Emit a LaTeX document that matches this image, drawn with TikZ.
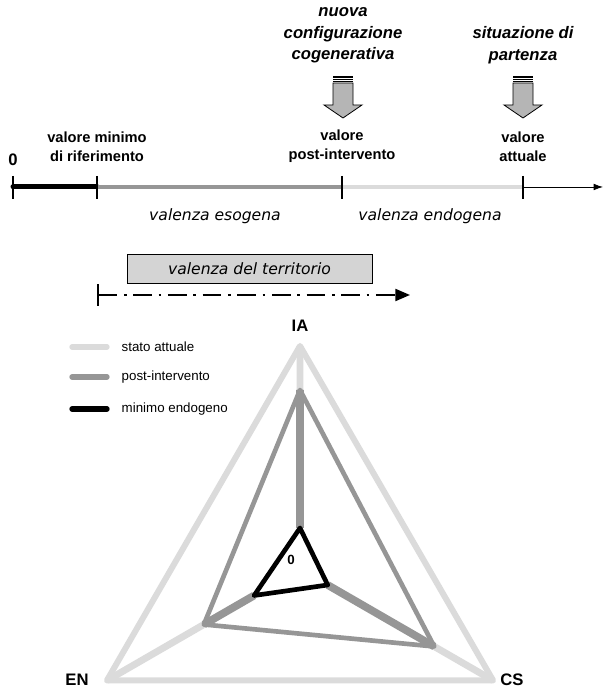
\documentclass[tikz,border=0pt]{standalone}
\usepackage{fontspec}
\setmainfont{Liberation Sans}
\newfontfamily\verd{DejaVu Sans}
\usepackage{xcolor}
\usepackage{tikz}
\usetikzlibrary{positioning,arrows.meta,calc}

\definecolor{lightgr}{gray}{0.86}
\definecolor{midgr}{gray}{0.59}
\definecolor{boxgr}{gray}{0.83}
\definecolor{arrowgr}{gray}{0.71}

\tikzset{
  lbl/.style={font=\bfseries\fontsize{11}{14.25}\selectfont, align=center},
  ttl/.style={font=\bfseries\itshape\fontsize{12.5}{16.2}\selectfont, align=center},
  val/.style={font=\verd\itshape\fontsize{11.7}{14}\selectfont},
  leg/.style={font=\fontsize{10}{12}\selectfont, anchor=west},
  axl/.style={font=\bfseries\fontsize{12.5}{14}\selectfont},
  blockarrow/.style={fill=arrowgr, draw=black, line width=0.6pt, line join=miter},
}

\begin{document}
\begin{tikzpicture}[x=0.75pt,y=0.75pt]
\useasboundingbox (0,0) rectangle (603,691);

% asse dei valori
\coordinate (z0) at (13,504);
\coordinate (zmin) at (97,504);
\coordinate (zpost) at (342,504);
\coordinate (zatt) at (523,504);
\coordinate (zend) at (603,504);
\draw[line width=3.75pt, line cap=round] (z0)--(zmin); % tratto nero
\draw[midgr, line width=3pt] (zmin)--(zpost); % valenza esogena
\draw[lightgr, line width=3pt] (zpost)--(zatt); % valenza endogena
\draw[-{Latex[length=7pt,width=5pt]}, line width=0.6pt] (zatt)--(zend);
\foreach \t in {z0,zmin,zpost,zatt}
  \draw[line width=0.8pt] ($(\t)+(0,11)$)--($(\t)+(0,-12)$); % tacche

\node[axl] (zero) at (13,531) {0};
\node[lbl] (lmin) at (97,544.5) {valore minimo\\di riferimento};
\node[lbl] (lpost) at (342,544.5) {valore\\post-intervento};
\node[lbl] (latt) at (523,544.5) {valore\\attuale};

% frecce grosse
\draw[blockarrow] (333,608)--(353,608)--(353,586)--(362,586)--(343,573)--(324,586)--(333,586)--cycle;
\draw[line width=1.2pt] (333,614)--(353,614);
\draw[line width=0.6pt] (333,611.5)--(353,611.5);
\draw[line width=0.6pt] (333,609.6)--(353,609.6);
\draw[blockarrow] (513,608)--(533,608)--(533,586)--(542,586)--(523,573)--(504,586)--(513,586)--cycle;
\draw[line width=1.2pt] (513,614)--(533,614);
\draw[line width=0.6pt] (513,611.5)--(533,611.5);
\draw[line width=0.6pt] (513,609.6)--(533,609.6);

\node[ttl] (nuova) at (343,655.5) {nuova\\configurazione\\cogenerativa};
\node[ttl] (sit) at (523,645.5) {situazione di\\partenza};

\node[val] (eso) at (215,475) {valenza esogena};
\node[val] (endo) at (430,475) {valenza endogena};

% valenza del territorio
\node[val, draw, line width=0.6pt, fill=boxgr, minimum width=183.75pt, minimum height=21.75pt] (terr) at (249.5,422.5) {valenza del territorio};
\coordinate (da) at (97,396);
\coordinate (db) at (410,396);
\draw[{Bar[width=16.5pt]}-{Triangle[length=11pt,width=9pt]}, line width=1.6pt, dash pattern=on 14pt off 5pt on 2pt off 5pt] (da)--(db);

% legenda
\coordinate (l1a) at (72,344); \coordinate (l1b) at (107,344);
\coordinate (l2a) at (72,314); \coordinate (l2b) at (107,314);
\coordinate (l3a) at (72,282); \coordinate (l3b) at (107,282);
\draw[lightgr, line width=4pt, line cap=round] (l1a)--(l1b);
\draw[midgr, line width=4pt, line cap=round] (l2a)--(l2b);
\draw[line width=4pt, line cap=round] (l3a)--(l3b);
\node[leg] (leg1) at (117,344) {stato attuale};
\node[leg] (leg2) at (117,314) {post-intervento};
\node[leg] (leg3) at (117,282) {minimo endogeno};

% diagramma a radar
\coordinate (O) at (300,122);
\coordinate (IA3) at ($(O)+(90:223)$);
\coordinate (EN3) at ($(O)+(210:223)$);
\coordinate (CS3) at ($(O)+(330:223)$);
\coordinate (IA2) at ($(O)+(90:179)$);
\coordinate (EN2) at ($(O)+(210:111)$);
\coordinate (CS2) at ($(O)+(330:155)$);
\coordinate (IA1) at ($(O)+(90:41)$);
\coordinate (EN1) at ($(O)+(210:53)$);
\coordinate (CS1) at ($(O)+(330:32)$);

\draw[lightgr, line width=4.5pt, line join=round] (IA3)--(EN3)--(CS3)--cycle; % stato attuale
\draw[lightgr, line width=5.2pt] (IA2)--(IA3) (EN2)--(EN3) (CS2)--(CS3);
\draw[midgr, line width=3.5pt, line join=round] (IA2)--(EN2)--(CS2)--cycle; % post-intervento
\draw[midgr, line width=5.8pt] (IA1)--(IA2) (EN1)--(EN2) (CS1)--(CS2);
\draw[line width=3.5pt, line join=round] (IA1)--(EN1)--(CS1)--cycle; % minimo endogeno
\node[font=\bfseries\fontsize{10}{11}\selectfont] (zr) at (291,131) {0};

\node[axl] (ia) at (300,365) {IA};
\node[axl] (en) at (77,11) {EN};
\node[axl] (cs) at (512,11) {CS};
\end{tikzpicture}
\end{document}
